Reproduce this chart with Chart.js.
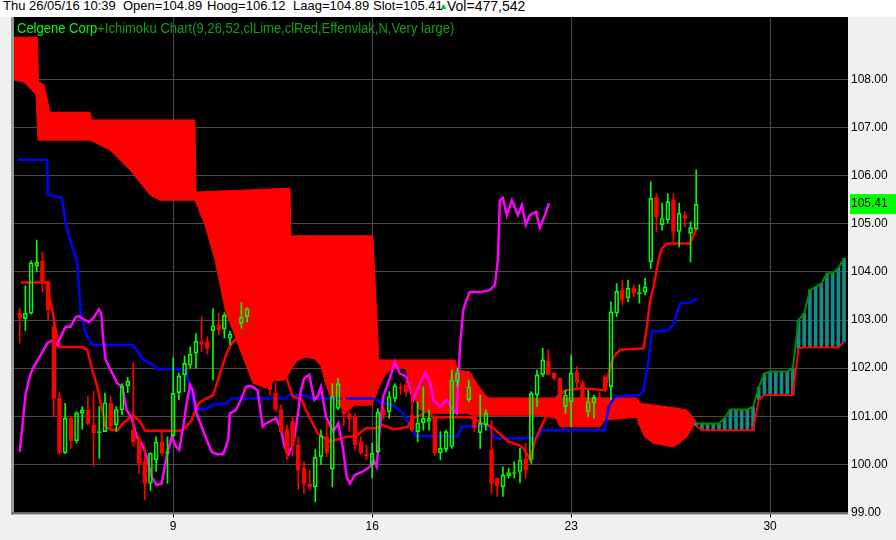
<!DOCTYPE html>
<html>
<head>
<meta charset="utf-8">
<script src="https://cdn.jsdelivr.net/npm/chart.js@4.4.0/dist/chart.umd.min.js"></script>
<style>
  html, body { margin: 0; padding: 0; background: #f0f0f0; }
  #wrap { position: relative; width: 896px; height: 540px; overflow: hidden; }
  canvas { position: absolute; left: 0; top: 0; }
  #topbar { position: absolute; left: 0; top: 0; width: 896px; height: 17px; background: #fff;
            font: 13px "Liberation Sans", Arial, sans-serif; line-height: 12px; color: #000; }
  #topbar span { position: absolute; top: 0; white-space: nowrap; }
  #title { position: absolute; left: 17px; top: 19px; white-space: nowrap; line-height: 14px;
           font: 13px "Liberation Sans", Arial, sans-serif; transform: scaleY(1.15); transform-origin: 0 0; }
</style>
</head>
<body>
<div id="wrap">
  <canvas id="chart" width="896" height="540"></canvas>
  <div id="topbar">
    <span style="left:3px">Thu 26/05/16 10:39</span>
    <span style="left:123px">Open=104.89</span>
    <span style="left:207px">Hoog=106.12</span>
    <span style="left:293px">Laag=104.89</span>
    <span style="left:373px">Slot=105.41</span>
    <span style="left:439px;color:#00c000;font-size:9px">&#9650;</span>
    <span style="left:447px;font-size:14px">Vol=477,542</span>
  </div>
  <div id="title"><span style="color:#00ff00">Celgene Corp</span><span style="color:#10a010">+Ichimoku Chart(9,26,52,clLime,clRed,Effenvlak,N,Very large)</span></div>
</div>
<script>
// hourly bars, index 0 = first bar on screen; 7 bars per trading day
const dayTickIdx = [27, 62, 97, 132];
const dayLabels = ["9", "16", "23", "30"];
const priceTicks = [99, 100, 101, 102, 103, 104, 105, 106, 107, 108];
const lastPrice = 105.41;

const candleOpen = [
  103.15, 103.03, 103.14, 104.12, 104.23, 103.80, 102.86, 101.37, 100.24, 100.96,
  100.49, 101.06, 101.13, 100.82, 100.66, 100.68, 101.27, 100.82, 101.13, 101.63,
  100.71, 100.52, 100.05, 99.60, 100.09, 100.46, 100.23, 100.59, 101.49, 101.86,
  102.06, 102.31, 102.55, 102.55, 102.78, 102.90, 102.81, 102.62, 102.95, 102.93,
  103.07, 103.20, 102.70, 102.30, 101.90, 101.48, 101.13, 100.72, 100.89, 100.40,
  99.92, 99.59, 99.53, 100.16, 100.57, 99.90, 101.16, 101.40, 101.05, 101.00,
  100.47, 100.21, 99.99, 100.26, 101.13, 101.09, 101.37, 101.60, 101.65, 101.02,
  100.68, 100.86, 100.89, 100.99, 100.24, 100.31, 100.37, 101.72, 101.85, 101.34,
  101.50, 100.66, 100.82, 100.30, 99.71, 99.53, 99.76, 99.81, 99.85, 100.12,
  100.10, 101.44, 101.87, 102.15, 101.90, 101.79, 101.20, 101.30, 101.93, 101.70,
  101.09, 101.27, 101.40, 101.82, 101.61, 103.14, 103.62, 103.46, 103.67, 103.55,
  103.58, 104.21, 105.55, 104.98, 105.08, 105.49, 104.84, 105.18, 104.80, 104.89
];
const candleHigh = [
  103.25, 103.71, 104.23, 104.66, 104.42, 103.82, 102.94, 101.49, 101.27, 100.99,
  101.09, 101.20, 101.41, 101.51, 101.20, 101.48, 101.41, 101.20, 101.68, 101.81,
  102.11, 100.61, 100.37, 100.24, 100.57, 100.68, 100.57, 102.22, 101.89, 102.25,
  102.44, 102.72, 103.07, 102.65, 103.24, 103.14, 103.15, 102.77, 103.05, 103.36,
  103.26, 103.30, 102.80, 102.40, 102.00, 101.69, 101.23, 100.82, 101.00, 100.57,
  100.05, 99.88, 100.31, 100.71, 100.89, 101.68, 101.79, 101.60, 101.10, 101.05,
  100.57, 100.40, 100.44, 101.16, 101.20, 101.51, 101.68, 101.68, 101.75, 101.82,
  101.30, 101.61, 101.13, 101.02, 100.68, 100.71, 101.96, 102.00, 101.95, 101.75,
  101.60, 101.44, 101.13, 100.92, 99.72, 99.95, 99.92, 100.05, 100.33, 100.44,
  101.51, 101.96, 102.41, 102.38, 101.92, 101.80, 101.54, 102.27, 102.03, 101.75,
  101.54, 101.44, 101.50, 101.85, 103.38, 103.76, 103.83, 103.83, 103.73, 103.73,
  103.87, 105.88, 105.63, 105.43, 105.63, 105.63, 105.43, 105.25, 105.04, 106.12
];
const candleLow = [
  102.52, 102.78, 103.12, 104.00, 103.59, 103.00, 100.99, 100.21, 100.22, 100.33,
  100.44, 100.73, 100.82, 99.96, 100.12, 100.68, 100.75, 100.68, 101.03, 101.49,
  100.37, 99.81, 99.26, 99.45, 99.85, 100.19, 99.60, 100.57, 101.34, 101.51,
  102.00, 102.00, 102.34, 102.29, 101.75, 102.69, 102.62, 102.48, 102.70, 102.83,
  102.96, 102.60, 102.20, 101.80, 101.45, 101.10, 100.64, 100.09, 100.17, 99.47,
  99.40, 99.47, 99.22, 99.99, 100.16, 99.53, 101.13, 100.80, 100.68, 100.30,
  100.21, 100.09, 99.71, 100.24, 100.95, 100.96, 101.30, 101.44, 101.41, 100.68,
  100.47, 100.71, 100.71, 100.19, 100.09, 100.26, 100.33, 101.61, 101.30, 101.30,
  100.68, 100.33, 100.71, 99.40, 99.33, 99.33, 99.71, 99.71, 99.62, 99.71,
  100.02, 101.20, 101.82, 101.86, 101.75, 101.30, 101.06, 100.78, 101.54, 101.30,
  100.99, 100.96, 101.10, 101.50, 101.34, 103.07, 103.31, 103.38, 103.48, 103.35,
  103.52, 104.07, 104.84, 104.87, 105.02, 104.63, 104.52, 104.94, 104.21, 104.89
];
const candleClose = [
  103.05, 103.14, 104.19, 104.20, 103.80, 103.21, 101.37, 100.24, 100.96, 100.49,
  101.07, 101.13, 100.85, 100.66, 100.68, 101.28, 100.80, 101.14, 101.63, 101.73,
  100.47, 100.02, 99.60, 100.23, 100.46, 100.23, 100.26, 101.48, 101.84, 102.10,
  102.29, 102.56, 102.50, 102.41, 102.88, 102.79, 103.10, 102.71, 102.80, 103.06,
  103.24, 102.70, 102.30, 101.90, 101.55, 101.14, 100.68, 100.24, 100.40, 99.88,
  99.60, 99.53, 100.15, 100.59, 100.23, 101.41, 101.68, 101.05, 100.95, 100.40,
  100.23, 100.17, 100.23, 101.09, 101.03, 101.41, 101.63, 101.58, 101.51, 100.71,
  100.86, 100.96, 100.96, 100.24, 100.33, 100.68, 101.75, 101.90, 101.50, 101.61,
  100.75, 100.85, 101.07, 99.60, 99.55, 99.78, 99.83, 99.83, 100.09, 99.88,
  101.48, 101.86, 102.17, 101.87, 101.79, 101.34, 101.44, 101.90, 101.70, 101.38,
  101.30, 101.39, 101.20, 101.54, 103.17, 103.60, 103.41, 103.66, 103.56, 103.57,
  103.69, 105.53, 105.15, 105.11, 105.46, 104.84, 105.22, 105.11, 104.92, 105.41
];

// [bar index, price]
const tenkan = [
  [0.18,103.78],[4.75,103.78],[4.85,103.69],[5.73,103.21],[6.33,102.79],[6.91,102.44],[11.0,102.44],
  [11.89,102.38],[12.77,101.96],[13.65,101.61],[14.25,101.27],[15.12,100.78],[16.0,100.72],[17.29,100.72],
  [18.22,100.86],[19.98,101.02],[21.16,100.89],[22.04,100.70],[28.19,100.70],[29.07,100.75],[30.25,100.92],
  [31.13,101.20],[31.71,101.29],[32.89,101.37],[34.05,101.44],[35.23,101.89],[36.41,102.31],[37.28,102.52],
  [38.7,102.67],[41.4,102.58],[44.0,102.15],[46.5,101.95],[48.01,101.41],[49.65,101.34],[50.35,101.13],
  [51.53,100.85],[52.41,100.64],[53.29,100.57],[54.45,100.47],[55.63,100.51],[57.39,100.57],[59.14,100.59],
  [60.9,100.75],[62.66,100.75],[63.84,100.82],[65.6,100.73],[67.06,100.75],[68.24,100.78],[69.12,100.96],
  [70.58,101.02],[71.76,101.13],[72.63,100.98],[79.2,100.98],[80.95,100.88],[83.06,100.78],[86.0,100.47],
  [87.76,100.40],[88.64,100.33],[89.8,100.09],[90.68,100.51],[92.16,100.89],[93.09,101.09],[94.32,101.38],
  [96.08,101.54],[98.9,101.58],[102.95,101.54],[103.6,101.89],[104.47,102.24],[105.63,102.38],[109.74,102.41],
  [110.32,102.86],[110.9,103.42],[111.5,103.69],[112.38,104.25],[112.96,104.49],[113.84,104.59],[117.94,104.59],
  [118.54,104.77],[119.12,104.91]
];
const kijun = [
  [-0.3,106.33],[4.8,106.33],[4.98,105.60],[7.44,105.54],[8.14,104.98],[8.85,104.67],[10.13,104.19],
  [10.73,103.15],[11.61,102.73],[12.77,102.48],[19.98,102.48],[21.74,102.17],[23.5,102.07],[24.09,101.98],
  [29.07,101.98],[29.95,101.61],[30.83,101.13],[32.89,101.16],[34.05,101.25],[36.41,101.27],[37.16,101.37],
  [46.83,101.37],[47.36,101.44],[49.82,101.44],[51.41,101.37],[61.96,101.37],[63.37,101.30],[65.65,101.23],
  [67.41,101.07],[68.82,100.78],[69.7,100.59],[76.91,100.58],[77.79,100.78],[82.53,100.80],[83.59,100.54],
  [90.98,100.54],[91.86,100.71],[102.94,100.71],[103.59,101.20],[104.75,101.41],[109.15,101.44],[109.74,101.54],
  [110.62,102.17],[111.2,102.76],[114.14,102.79],[115.02,102.93],[116.18,103.35],[117.94,103.36],[119.12,103.45]
];
const chikou = [
  [0,100.26],[0.46,100.78],[1.06,101.48],[1.93,101.89],[2.81,102.10],[3.69,102.27],[4.85,102.52],[5.73,102.58],
  [6.61,102.48],[7.21,102.65],[8.09,102.86],[8.97,102.86],[9.85,103.06],[10.43,103.08],[11.31,103.01],
  [12.19,102.96],[13.07,103.06],[13.95,103.22],[14.35,103.14],[14.7,102.58],[15.12,102.17],[16.29,101.89],
  [17.17,101.68],[18.04,101.61],[18.82,101.13],[19.7,100.96],[20.58,100.57],[21.46,100.44],[22.34,100.16],
  [23.21,99.74],[24.09,99.57],[24.97,99.60],[25.85,100.16],[26.73,100.57],[27.49,100.37],[28.07,100.30],
  [28.77,100.78],[29.37,101.27],[29.95,101.65],[30.43,101.54],[31.13,101.06],[32.01,100.78],[32.89,100.51],
  [33.77,100.26],[34.65,100.21],[35.81,100.21],[36.69,100.51],[36.99,101.06],[38.04,101.13],[38.92,101.34],
  [39.8,101.61],[40.68,101.63],[41.86,101.54],[42.74,100.78],[43.32,100.85],[45.08,100.96],[45.9,100.75],
  [46.6,100.36],[47.3,100.21],[48.2,100.45],[49.0,101.10],[49.47,101.54],[50.05,101.79],[50.93,101.86],
  [51.81,101.34],[52.41,101.41],[52.99,101.61],
  [53.87,100.99],[55.15,100.68],[56.03,100.85],[56.91,100.30],[57.51,99.74],[58.09,99.60],[58.97,99.78],
  [60.43,99.85],[61.61,99.95],[62.19,100.09],[62.79,99.95],[63.37,100.78],[63.95,101.41],[65.12,101.79],
  [66.0,102.13],[66.88,101.89],[68.06,101.82],[69.22,101.34],[70.4,101.68],[71.28,101.89],[72.16,101.72],
  [72.75,101.34],[73.92,101.20],[75.1,101.34],[76.27,101.13],[76.86,101.06],[77.44,102.44],[78.03,103.21],
  [78.61,103.42],[79.19,103.58],[80.95,103.58],[82.71,103.62],[83.59,103.73],[84.12,104.25],[84.46,105.49],
  [84.99,105.54],[85.69,105.18],[86.58,105.49],[87.63,105.18],[88.34,105.39],[89.04,104.98],[89.75,105.18],
  [90.8,105.25],[91.51,104.92],[92.39,105.18],[93.09,105.43]
];

// past cloud (senkou span B above span A), [bar index, price]
const cloudUpper = [
  [-1,108.88],[3.15,108.88],[3.3,107.95],[4.27,107.89],[5.33,107.32],
  [12.36,107.32],[12.72,107.16],[30.83,107.16],[31.01,105.66],[47.54,105.74],[47.71,104.75],[62.13,104.75],
  [63.19,102.17],[76.56,102.17],[77.08,101.96],[79.19,101.92],[80.25,101.71],[81.48,101.50],[82.36,101.38],
  [108.56,101.38],[109.09,101.27],[114.37,101.19],[117.36,101.13],[118.41,100.98],[119.12,100.86]
];
const cloudLower = [
  [-1,107.99],[0.76,107.95],[1.81,107.82],[2.87,107.68],[3.22,106.74],[12.36,106.74],[14.12,106.64],
  [15.88,106.53],[19.4,106.12],[22.92,105.60],[24.68,105.49],[30.83,105.49],[32.59,104.97],[34.35,104.25],
  [36.28,103.14],[37.51,102.79],[38.57,102.44],[39.8,102.06],[41.03,101.69],[43.32,101.58],[44.55,101.73],
  [46.49,101.75],[47.54,101.92],[48.59,102.13],[50.18,102.23],[51.94,102.19],[53.0,102.04],[53.87,101.65],
  [54.75,101.38],[55.63,101.34],[57.21,101.07],[58.97,101.23],
  [61.96,101.23],[63.02,101.55],[64.25,101.86],[65.48,102.0],[67.76,102.0],[68.64,101.75],[69.35,101.40],
  [70.4,101.13],[72.16,101.06],[78.32,101.06],[80.07,101.02],[91.5,101.02],[94.32,100.96],[95.02,100.78],
  [102.06,100.78],[102.94,100.92],[108.56,100.98],[109.09,100.78],[109.97,100.57],[111.38,100.44],
  [114.89,100.36],[116.12,100.44],[117.36,100.57],[118.41,100.78],[119.12,100.86]
];

// future cloud, bars 119..145
const futureStart = 119;
const spanA = [100.85,100.85,100.85,100.85,100.85,100.96,101.14,101.14,101.14,101.14,101.2,101.6,101.89,101.93,
  101.93,101.93,101.93,102.0,103.0,103.14,103.62,103.69,103.76,103.97,103.97,104.08,104.28];
const spanB = [100.80,100.71,100.71,100.71,100.71,100.71,100.71,100.71,100.71,100.71,100.71,101.34,101.44,101.44,
  101.44,101.44,101.44,101.44,102.41,102.43,102.43,102.43,102.43,102.43,102.43,102.43,102.55];

const AXIS_FONT = { family: "'Liberation Sans', Arial, sans-serif", size: 12 };
const GREEN = "#00ff00", RED = "#ff0000";

const pts = (arr) => arr.map(([x, y]) => ({ x, y }));
const bars = candleOpen.map((o, i) => ({ i, o, h: candleHigh[i], l: candleLow[i], c: candleClose[i] }));
const up = bars.filter((b) => b.c >= b.o);
const down = bars.filter((b) => b.c < b.o);
const fut = spanA.map((a, k) => ({ x: futureStart + k, a, b: spanB[k] }));

const barDs = (data, color, fill, thickness, order, border = 0) => ({
  type: "bar", data, backgroundColor: fill, borderColor: color, borderWidth: border,
  barThickness: thickness, borderSkipped: false, grouped: false, order,
});
const lineDs = (data, color, width, order) => ({
  type: "line", data, borderColor: color, borderWidth: width, pointRadius: 0, tension: 0, fill: false, order,
});

// black plot, grey frame, last-price tag
const frame = {
  id: "frame",
  beforeDraw(chart) {
    const { ctx, chartArea: a } = chart;
    ctx.save();
    ctx.fillStyle = "#f0f0f0";
    ctx.fillRect(0, 0, chart.width, chart.height);
    ctx.fillStyle = "#000";
    ctx.fillRect(a.left, a.top, a.right - a.left, a.bottom - a.top);
    ctx.restore();
  },
  afterDraw(chart) {
    const { ctx, chartArea: a, scales } = chart;
    ctx.save();
    ctx.fillStyle = "#9a9a9a";
    ctx.fillRect(a.left - 3, a.top, 3, a.bottom - a.top + 2);
    ctx.fillStyle = "#6e6e6e";
    ctx.fillRect(a.left - 3, a.bottom, a.right - a.left + 3, 2);
    const y = scales.y.getPixelForValue(lastPrice);
    ctx.fillStyle = GREEN;
    ctx.fillRect(a.right + 2, y - 10, chart.width - a.right - 2, 20);
    ctx.fillStyle = "#000";
    ctx.font = `${AXIS_FONT.size}px ${AXIS_FONT.family}`;
    ctx.textBaseline = "middle";
    ctx.fillText(lastPrice.toFixed(2), a.right + 3, y);
    ctx.restore();
  },
};

new Chart(document.getElementById("chart"), {
  type: "line",
  data: {
    datasets: [
      { type: "line", data: pts(cloudUpper), borderColor: RED, borderWidth: 1, pointRadius: 0, fill: false, order: 9 },
      { type: "line", data: pts(cloudLower), borderColor: RED, borderWidth: 1, pointRadius: 0, fill: "-1", backgroundColor: RED, order: 9 },
      barDs(fut.map((p) => ({ x: p.x, y: [p.b, p.a] })), "#148a8a", "#148a8a", 3, 8),
      lineDs(fut.map((p) => ({ x: p.x, y: p.b })), RED, 2, 7),
      lineDs(fut.map((p) => ({ x: p.x, y: p.a })), "#008a00", 2, 7),
      lineDs(pts(kijun), "#0000ff", 2.5, 5),
      lineDs(pts(tenkan), RED, 2.5, 4),
      lineDs(pts(chikou), "#ff00ff", 2.5, 3),
      barDs(down.map((b) => ({ x: b.i, y: [b.l, b.h] })), RED, RED, 1, 2),
      barDs(up.map((b) => ({ x: b.i, y: [b.c, b.h] })), GREEN, GREEN, 1, 2),
      barDs(up.map((b) => ({ x: b.i, y: [b.l, b.o] })), GREEN, GREEN, 1, 2),
      barDs(down.map((b) => ({ x: b.i, y: [b.c, b.o] })), RED, RED, 4, 1, 1),
      barDs(up.map((b) => ({ x: b.i, y: [b.o, b.c] })), GREEN, "rgba(0,0,0,0)", 4, 1, 1),
    ],
  },
  options: {
    responsive: false,
    animation: false,
    layout: { padding: { left: 14, top: 17, right: 0, bottom: 0 } },
    plugins: { legend: { display: false }, tooltip: { enabled: false } },
    scales: {
      x: {
        type: "linear", min: -1, max: 145.7, offset: false,
        afterFit: (s) => { s.height = 27.6; },
        afterBuildTicks: (s) => { s.ticks = dayTickIdx.map((v) => ({ value: v })); },
        ticks: { callback: (v, i) => dayLabels[i], color: "#000", font: AXIS_FONT, padding: 2, maxRotation: 0, autoSkip: false },
        grid: { color: "#4a4a4a", tickColor: "#000", tickLength: 5, offset: false },
        border: { display: false },
      },
      y: {
        position: "right", min: 99, max: 109.3,
        afterFit: (s) => { s.width = 48; },
        afterBuildTicks: (s) => { s.ticks = priceTicks.map((v) => ({ value: v })); },
        ticks: { callback: (v) => v.toFixed(2), color: "#000", font: AXIS_FONT, padding: 3 },
        grid: { color: "#4a4a4a", drawTicks: false, offset: false },
        border: { display: false },
      },
    },
  },
  plugins: [frame],
});
</script>
</body>
</html>
